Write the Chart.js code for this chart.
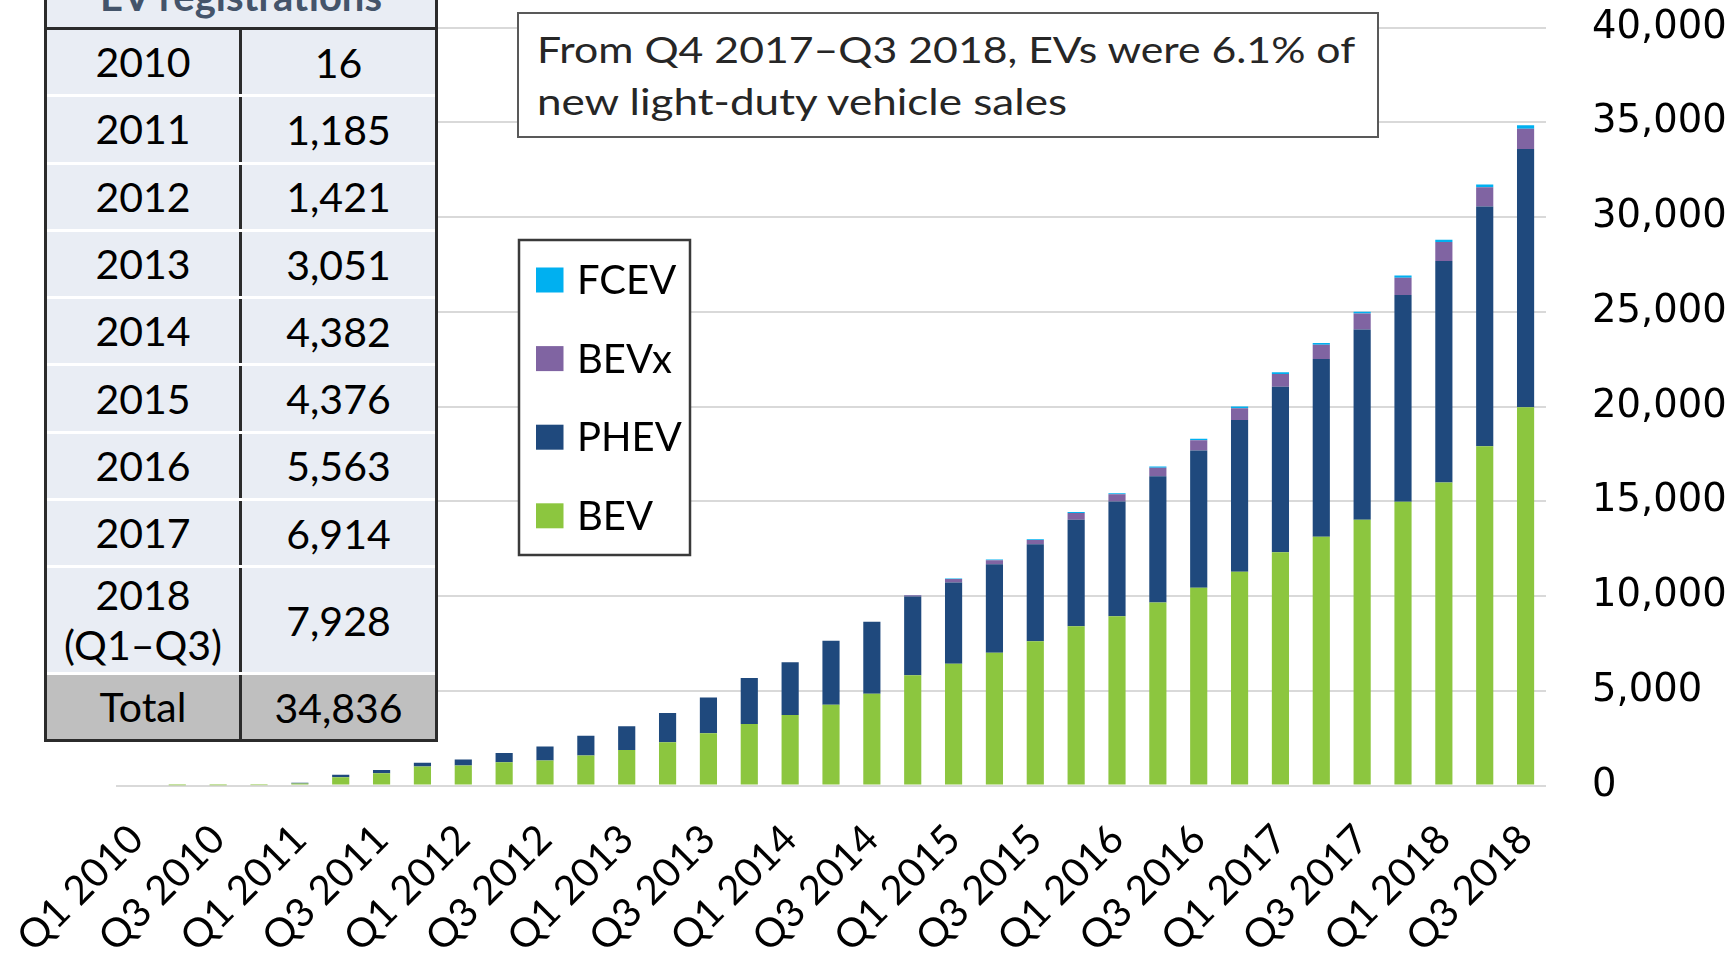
<!DOCTYPE html>
<html>
<head>
<meta charset="utf-8">
<script src="https://cdn.jsdelivr.net/npm/chart.js@4.4.1/dist/chart.umd.min.js"></script>
<style>
  html, body { margin: 0; padding: 0; background: #ffffff; }
  #wrap { position: relative; width: 1730px; height: 959px; overflow: hidden; background: #fff; }
  #chart { position: absolute; left: 0; top: 0; }
  #note {
    position: absolute; left: 517px; top: 12px; width: 862px; height: 126px;
    box-sizing: border-box; border: 2.5px solid #595959; background: #fff;
    font-family: Lato, sans-serif; font-size: 37px; color: #262626;
  }
  #note .ln { position: absolute; left: 18px; white-space: nowrap; transform-origin: 0 0; line-height: 44px; }
  #tbl {
    position: absolute; left: 44px; top: -60px; width: 394px;
    box-sizing: border-box; border: 3px solid #2b2b2b; background: #E9EDF4;
    font-family: Lato, sans-serif; font-size: 41px; color: #000;
  }
  #tbl .hd {
    height: 87px; box-sizing: border-box; border-bottom: 3px solid #2b2b2b; position: relative;
  }
  #tbl .hd span {
    position: absolute; left: 0; right: 0; top: 29px; text-align: center;
    font-weight: bold; color: #44546A; font-size: 40px; line-height: 48px;
  }
  #tbl .row { display: flex; box-sizing: border-box; border-bottom: 3px solid #ffffff; }
  #tbl .row.total { background: #BFBFBF; border-bottom: none; }
  #tbl .c1 { width: 192px; border-right: 3px solid #2b2b2b; display: flex; align-items: center; justify-content: center; text-align: center; line-height: 50px; }
  #tbl .c2 { flex: 1; display: flex; align-items: center; justify-content: center; text-align: center; }
</style>
</head>
<body>
<div id="wrap">
  <canvas id="chart" width="1730" height="959"></canvas>
  <div id="note"></div>
  <div id="tbl"></div>
</div>
<script>
// ---------------- data ----------------
const quarters = [
  'Q1 2010','Q2 2010','Q3 2010','Q4 2010',
  'Q1 2011','Q2 2011','Q3 2011','Q4 2011',
  'Q1 2012','Q2 2012','Q3 2012','Q4 2012',
  'Q1 2013','Q2 2013','Q3 2013','Q4 2013',
  'Q1 2014','Q2 2014','Q3 2014','Q4 2014',
  'Q1 2015','Q2 2015','Q3 2015','Q4 2015',
  'Q1 2016','Q2 2016','Q3 2016','Q4 2016',
  'Q1 2017','Q2 2017','Q3 2017','Q4 2017',
  'Q1 2018','Q2 2018','Q3 2018'
];
const bev  = [0, 2, 5, 14, 100, 439, 649, 1000, 1052, 1228, 1316, 1579, 1877, 2280, 2754, 3250, 3725, 4257, 4837, 5822, 6420, 7001, 7617, 8408, 8936, 9657, 10431, 11275, 12313, 13122, 14019, 14969, 15987, 17897, 19965];
const phev = [0, 0, 0, 2, 40, 122, 175, 201, 316, 491, 736, 1043, 1245, 1544, 1894, 2423, 2775, 3377, 3800, 4153, 4292, 4679, 5118, 5611, 6050, 6667, 7247, 8016, 8726, 9384, 10047, 10919, 11689, 12653, 13617];
const bevx = [0, 0, 0, 0, 0, 0, 0, 0, 0, 0, 0, 0, 0, 0, 0, 0, 0, 0, 0, 60, 180, 210, 220, 360, 380, 440, 540, 620, 680, 753, 841, 910, 999, 1016, 1080];
const fcev = [0, 0, 0, 0, 0, 0, 0, 0, 0, 0, 0, 0, 0, 0, 0, 0, 0, 0, 0, 20, 30, 36, 44, 52, 60, 69, 76, 83, 88, 90, 95, 110, 120, 150, 174];
const yTicks = [0, 5000, 10000, 15000, 20000, 25000, 30000, 35000, 40000];

const tableHeader = 'EV registrations';
const tableYears  = ['2010','2011','2012','2013','2014','2015','2016','2017','2018\n(Q1–Q3)','Total'];
const tableValues = ['16','1,185','1,421','3,051','4,382','4,376','5,563','6,914','7,928','34,836'];
const noteLines = ['From Q4 2017–Q3 2018, EVs were 6.1% of', 'new light-duty vehicle sales'];

// ---------------- overlays ----------------
(function buildTable(){
  const t = document.getElementById('tbl');
  const hd = document.createElement('div'); hd.className = 'hd';
  const hs = document.createElement('span'); hs.textContent = tableHeader; hd.appendChild(hs);
  t.appendChild(hd);
  tableYears.forEach((yr, i) => {
    const r = document.createElement('div');
    r.className = 'row' + (yr === 'Total' ? ' total' : '');
    r.style.height = (yr === 'Total' ? 64 : (yr.indexOf('\n') >= 0 ? 107 : 67.3)) + 'px';
    const c1 = document.createElement('div'); c1.className = 'c1';
    c1.innerHTML = yr.split('\n').join('<br>');
    const c2 = document.createElement('div'); c2.className = 'c2';
    c2.textContent = tableValues[i];
    r.appendChild(c1); r.appendChild(c2); t.appendChild(r);
  });
})();

(function buildNote(){
  const n = document.getElementById('note');
  const targets = [819, 533];
  const tops = [13, 65];
  const mc = document.createElement('canvas').getContext('2d');
  mc.font = '37px Lato';
  noteLines.forEach((s, i) => {
    const d = document.createElement('div'); d.className = 'ln';
    d.textContent = s; d.style.top = tops[i] + 'px';
    const w = mc.measureText(s).width;
    d.style.transform = 'scaleX(' + (targets[i] / w).toFixed(4) + ')';
    n.appendChild(d);
  });
})();

// ---------------- legend plugin ----------------
const boxLegend = {
  id: 'boxLegend',
  afterDraw(chart) {
    const ctx = chart.ctx;
    ctx.save();
    const x0 = 519, y0 = 240, w = 171, h = 315;
    ctx.fillStyle = '#ffffff'; ctx.fillRect(x0, y0, w, h);
    ctx.strokeStyle = '#3a3a3a'; ctx.lineWidth = 2.5; ctx.strokeRect(x0, y0, w, h);
    const ds = chart.data.datasets.slice().reverse();
    ds.forEach((d, i) => {
      const cy = 280 + i * 78.6;
      ctx.fillStyle = d.backgroundColor;
      ctx.fillRect(536, cy - 12.5, 27.5, 25);
      ctx.fillStyle = '#000';
      ctx.font = '40px Lato';
      ctx.textBaseline = 'middle';
      ctx.textAlign = 'left';
      ctx.fillText(d.label, 577, cy + 1);
    });
    ctx.restore();
  }
};

// ---------------- chart ----------------
const ctx = document.getElementById('chart').getContext('2d');
new Chart(ctx, {
  type: 'bar',
  data: {
    labels: quarters,
    datasets: [
      { label: 'BEV',  data: bev,  backgroundColor: '#8CC63F' },
      { label: 'PHEV', data: phev, backgroundColor: '#1F497D' },
      { label: 'BEVx', data: bevx, backgroundColor: '#8064A2' },
      { label: 'FCEV', data: fcev, backgroundColor: '#00B0F0' }
    ]
  },
  options: {
    responsive: false,
    animation: false,
    devicePixelRatio: 1,
    layout: { padding: { left: 116, top: 27.5, right: 0, bottom: 0 } },
    datasets: { bar: { categoryPercentage: 1.0, barPercentage: 0.42, borderWidth: 0 } },
    plugins: { legend: { display: false }, tooltip: { enabled: false } },
    scales: {
      x: {
        stacked: true,
        grid: { display: false, drawTicks: false },
        border: { display: false },
        ticks: {
          autoSkip: false,
          minRotation: 45, maxRotation: 45,
          padding: 30,
          color: '#000',
          font: { family: 'Lato', size: 40 },
          callback: function(v, i) { return i % 2 === 0 ? quarters[i] : ''; }
        },
        afterFit(scale) { scale.height = 959 - 785.5; scale.paddingLeft = 0; scale.paddingRight = 0; }
      },
      y: {
        stacked: true,
        position: 'right',
        min: 0, max: 40000,
        afterBuildTicks(scale) { scale.ticks = yTicks.map(v => ({ value: v })); },
        grid: { color: '#D9D9D9', lineWidth: 2, drawTicks: false },
        border: { display: false },
        ticks: {
          padding: 46,
          color: '#000',
          font: { family: 'DejaVu Sans', size: 38.5 },
          callback: v => Number(v).toLocaleString('en-US')
        },
        afterFit(scale) { scale.width = 184; scale.paddingTop = 0; scale.paddingBottom = 0; }
      }
    }
  },
  plugins: [boxLegend]
});
</script>
</body>
</html>
